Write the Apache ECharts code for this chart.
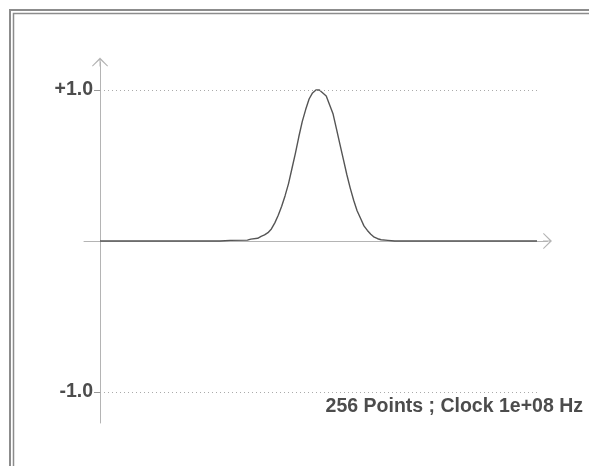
<!DOCTYPE html>
<html>
<head>
<meta charset="utf-8">
<script src="https://cdn.jsdelivr.net/npm/echarts@6/dist/echarts.min.js"></script>
<style>html,body{margin:0;padding:0;background:#fff}#c{width:589px;height:466px}</style>
</head>
<body>
<div id="c"></div>
<script>
// Sample index (0..255) and amplitude
const sampleIndex = [0, 70, 76, 86, 88, 92, 94, 96, 98, 100, 102, 104, 106, 108, 110, 112, 114, 116, 118, 120, 122, 124, 126, 128, 130, 132, 134, 136, 138, 140, 142, 144, 146, 148, 150, 152, 154, 156, 158, 160, 162, 164, 168, 172, 255];
const sampleValue = [0, 0, 0.004, 0.006, 0.012, 0.018, 0.03, 0.04, 0.055, 0.08, 0.12, 0.17, 0.23, 0.30, 0.38, 0.48, 0.58, 0.69, 0.79, 0.87, 0.94, 0.98, 1.0, 1.0, 0.98, 0.96, 0.9, 0.84, 0.74, 0.64, 0.54, 0.44, 0.35, 0.27, 0.2, 0.15, 0.1, 0.07, 0.045, 0.025, 0.015, 0.008, 0.004, 0, 0];
const yTickValues = [1, -1];
const yTickLabels = ['+1.0', '-1.0'];
const caption = '256 Points ; Clock 1e+08 Hz';
const lastIndex = 255;

const chart = echarts.init(document.getElementById('c'), null, {renderer: 'canvas'});
const seriesData = sampleIndex.map((x, i) => [x, sampleValue[i]]);
const chevron = 'path://M8,0 L8.6,1.4 L0.7,9 L0,8.3 Z M8,0 L16,8.3 L15.3,9 L7.4,1.4 Z M7.5,0.5 L8.5,0.5 L8.5,9 L7.5,9 Z';
const FONT = '"Liberation Sans", Arial, sans-serif';
const gridLines = yTickValues.map(v => [{coord: [0, v]}, {coord: [lastIndex, v]}]);
const tickLines = yTickValues.map(v => [{coord: [-3.5, v]}, {coord: [0, v]}]);

chart.setOption({
  animation: false,
  backgroundColor: '#fff',
  grid: {left: 84, right: 41.5, top: 62, bottom: 43, containLabel: false},
  xAxis: {
    type: 'value', min: -9.34, max: 261.1,
    axisLine: {onZero: true, symbol: ['none', chevron], symbolSize: [16, 9],
      lineStyle: {color: '#b4b4b4', width: 1}},
    axisTick: {show: false}, axisLabel: {show: false}, splitLine: {show: false}
  },
  yAxis: {
    type: 'value', min: -1.205, max: 1.185,
    axisLine: {onZero: true, symbol: ['none', chevron], symbolSize: [16, 9],
      lineStyle: {color: '#b4b4b4', width: 1}},
    axisTick: {show: false},
    axisLabel: {show: true, customValues: yTickValues, margin: -9,
      formatter: v => yTickLabels[yTickValues.indexOf(v)] || '',
      color: '#4c4c4c', fontFamily: FONT, fontWeight: 'bold', fontSize: 19.5},
    splitLine: {show: false}
  },
  series: [{
    type: 'line', data: seriesData, showSymbol: false, smooth: false,
    lineStyle: {color: '#555', width: 1.4},
    markLine: {silent: true, symbol: ['none', 'none'], label: {show: false},
      lineStyle: {color: '#aaa', type: [1, 3], width: 1}, data: gridLines}
  }, {
    type: 'line', data: [], silent: true,
    markLine: {silent: true, symbol: ['none', 'none'], label: {show: false},
      lineStyle: {color: '#999', type: 'solid', width: 1}, data: tickLines}
  }],
  graphic: [
    {type: 'polyline', shape: {points: [[10, 466], [10, 10], [589, 10]]}, style: {stroke: '#8c8c8c', lineWidth: 2, fill: null}},
    {type: 'polyline', shape: {points: [[13.5, 466], [13.5, 13.5], [589, 13.5]]}, style: {stroke: '#8c8c8c', lineWidth: 1.5, fill: null}},
    {type: 'text', right: 6, top: 397, style: {text: caption, fill: '#4c4c4c', font: 'bold 19.5px ' + FONT}}
  ]
});
</script>
</body>
</html>
